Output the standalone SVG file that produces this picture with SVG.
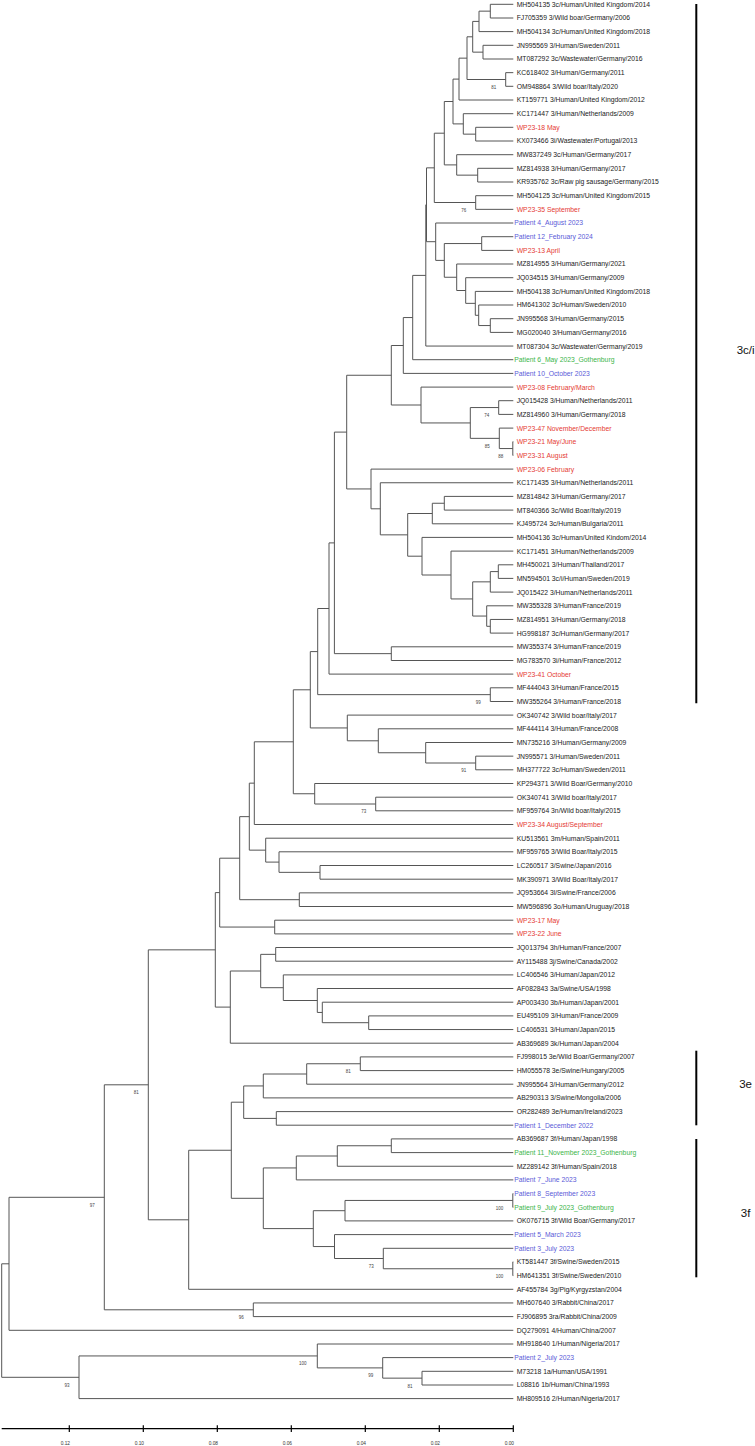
<svg xmlns="http://www.w3.org/2000/svg" width="755" height="1446" viewBox="0 0 755 1446">
<style>
.br{fill:none;stroke:#555;stroke-width:1}
.t{font-family:"Liberation Sans",Arial,sans-serif;font-size:6.8px;fill:#222}
.r{fill:#e53b35}
.b{fill:#5b5bd8}
.g{fill:#3cb54a}
.bs{font-family:"Liberation Sans",Arial,sans-serif;font-size:4.5px;fill:#444;text-anchor:end}
.sc{font-family:"Liberation Sans",Arial,sans-serif;font-size:4.8px;fill:#333;text-anchor:end}
.bar{stroke:#000;stroke-width:2}
.cl{font-family:"Liberation Sans",Arial,sans-serif;font-size:11.5px;fill:#111;text-anchor:middle}
</style>
<rect width="755" height="1446" fill="#fff"/>
<g id="connectors" class="br">
<path d="M513.3 4.3H490.3V18H513.3"/>
<path d="M490.3 11.15H479V31.6H513.3"/>
<path d="M513.3 45.3H483V59H513.3"/>
<path d="M479 21.4H472.7V52.15H483"/>
<path d="M513.3 72.65H505.7V86.3H513.3"/>
<path d="M472.7 36.8H467V79.5H505.7"/>
<path d="M467 58.15H459V100H513.3"/>
<path d="M513.3 127.3H475.7V141H513.3"/>
<path d="M513.3 113.7H463.3V134.15H475.7"/>
<path d="M459 79.1H453V123.9H463.3"/>
<path d="M513.3 168.3H477.7V182H513.3"/>
<path d="M513.3 154.7H456.7V175.15H477.7"/>
<path d="M453 101.5H444.3V164.9H456.7"/>
<path d="M513.3 195.7H475.7V209.35H513.3"/>
<path d="M444.3 133.2H434.3V202.5H475.7"/>
<path d="M513.3 236.7H481.7V250.4H513.3"/>
<path d="M513.3 318.7H490.3V332.4H513.3"/>
<path d="M513.3 305H478.7V325.55H490.3"/>
<path d="M513.3 291.4H475.3V315.3H478.7"/>
<path d="M513.3 277.7H465.7V303.35H475.3"/>
<path d="M513.3 264H456.7V290.5H465.7"/>
<path d="M481.7 243.55H444.3V277.25H456.7"/>
<path d="M513.3 223H435.7V260.4H444.3"/>
<path d="M434.3 167.85H426.5V241.7H435.7"/>
<path d="M426.5 204.8H425.8V346.05H513.3"/>
<path d="M425.8 275.4H412.7V359.7H513.3"/>
<path d="M412.7 317.55H403.3V373.4H513.3"/>
<path d="M513.3 441.7H512.8V455.4H513.3"/>
<path d="M513.3 428.1H499.3V448.55H512.8"/>
<path d="M513.3 400.7H498.7V414.4H513.3"/>
<path d="M498.7 407.55H470.3V438.35H499.3"/>
<path d="M513.3 387.1H421V422.95H470.3"/>
<path d="M403.3 345.5H391.3V405H421"/>
<path d="M513.3 496.4H444.3V510.1H513.3"/>
<path d="M444.3 503.25H432.3V523.8H513.3"/>
<path d="M513.3 564.8H498.3V578.4H513.3"/>
<path d="M498.3 571.6H490.3V592.1H513.3"/>
<path d="M513.3 619.45H490.3V633.1H513.3"/>
<path d="M513.3 605.8H486.7V626.3H490.3"/>
<path d="M490.3 581.85H472.7V616.05H486.7"/>
<path d="M513.3 551.1H451V598.95H472.7"/>
<path d="M513.3 537.4H422V575H451"/>
<path d="M432.3 513.5H407.7V556.2H422"/>
<path d="M513.3 482.75H380.3V534.85H407.7"/>
<path d="M513.3 469.1H371V508.8H380.3"/>
<path d="M391.3 375.25H346.7V488.95H371"/>
<path d="M513.3 646.8H391.3V660.5H513.3"/>
<path d="M346.7 432.1H334.4V653.65H391.3"/>
<path d="M334.4 542.9H329V674.1H513.3"/>
<path d="M513.3 687.8H490.3V701.5H513.3"/>
<path d="M329 608.5H317.7V694.65H490.3"/>
<path d="M513.3 756.15H475.7V769.8H513.3"/>
<path d="M513.3 742.5H425.7V763H475.7"/>
<path d="M513.3 728.8H378.3V752.75H425.7"/>
<path d="M513.3 715.1H347.3V740.8H378.3"/>
<path d="M317.7 651.6H310.3V727.95H347.3"/>
<path d="M513.3 797.2H375.7V810.8H513.3"/>
<path d="M513.3 783.5H314.7V804H375.7"/>
<path d="M310.3 689.8H293.3V793.75H314.7"/>
<path d="M293.3 741.8H254.3V824.5H513.3"/>
<path d="M513.3 865.5H320V879.2H513.3"/>
<path d="M513.3 851.8H279V872.35H320"/>
<path d="M513.3 838.2H265.7V862.1H279"/>
<path d="M254.3 783.15H249.3V850.15H265.7"/>
<path d="M513.3 892.85H299.3V906.5H513.3"/>
<path d="M249.3 816.65H239.7V899.7H299.3"/>
<path d="M513.3 920.2H274.7V933.9H513.3"/>
<path d="M239.7 858.2H219.7V927.05H274.7"/>
<path d="M513.3 947.5H275.7V961.2H513.3"/>
<path d="M513.3 1015.9H368.7V1029.55H513.3"/>
<path d="M513.3 1002.2H322.3V1022.7H368.7"/>
<path d="M513.3 988.5H317.3V1012.45H322.3"/>
<path d="M513.3 974.9H283.3V1000.5H317.3"/>
<path d="M275.7 954.35H260.7V987.7H283.3"/>
<path d="M260.7 971H230.3V1043.2H513.3"/>
<path d="M219.7 892.6H215.3V1007.1H230.3"/>
<path d="M513.3 1056.9H360.3V1070.6H513.3"/>
<path d="M360.3 1063.75H306.7V1084.2H513.3"/>
<path d="M306.7 1074H263.3V1097.9H513.3"/>
<path d="M513.3 1111.6H276.3V1125.2H513.3"/>
<path d="M263.3 1085.95H243.7V1118.4H276.3"/>
<path d="M513.3 1138.9H391.3V1152.6H513.3"/>
<path d="M391.3 1145.75H337.3V1166.25H513.3"/>
<path d="M337.3 1156H296.3V1179.9H513.3"/>
<path d="M513.3 1193.6H512.8V1207.3H513.3"/>
<path d="M512.8 1200.45H345V1220.9H513.3"/>
<path d="M513.3 1261.9H512.8V1275.6H513.3"/>
<path d="M513.3 1248.3H383.3V1268.75H512.8"/>
<path d="M513.3 1234.6H334.5V1258.5H383.3"/>
<path d="M345 1210.7H313.3V1246.55H334.5"/>
<path d="M296.3 1167.95H263.3V1228.6H313.3"/>
<path d="M243.7 1102.2H231.3V1198.3H263.3"/>
<path d="M231.3 1150.25H188.7V1289.3H513.3"/>
<path d="M215.3 949.85H148.3V1219.8H188.7"/>
<path d="M513.3 1302.95H253.3V1316.6H513.3"/>
<path d="M148.3 1084.8H104.3V1309.8H253.3"/>
<path d="M104.3 1197.3H9V1330.3H513.3"/>
<path d="M513.3 1371.3H422V1385H513.3"/>
<path d="M513.3 1357.6H382.7V1378.15H422"/>
<path d="M513.3 1344H317.3V1367.9H382.7"/>
<path d="M317.3 1355.95H79V1398.6H513.3"/>
<path d="M9 1263.8H1.7V1377.3H79"/>
</g>
<g id="bootstrap">
<text class="bs" x="496.2" y="88.8">81</text>
<text class="bs" x="466.2" y="211.8">76</text>
<text class="bs" x="489.2" y="416.9">74</text>
<text class="bs" x="489.8" y="447.7">85</text>
<text class="bs" x="503.3" y="457.9">88</text>
<text class="bs" x="480.8" y="704">99</text>
<text class="bs" x="466.2" y="772.3">91</text>
<text class="bs" x="366.2" y="813.3">73</text>
<text class="bs" x="350.8" y="1073">81</text>
<text class="bs" x="138.8" y="1094.1">81</text>
<text class="bs" x="94.8" y="1206.6">97</text>
<text class="bs" x="243.8" y="1319.1">96</text>
<text class="bs" x="503.3" y="1209.8">100</text>
<text class="bs" x="373.8" y="1267.8">73</text>
<text class="bs" x="503.3" y="1278">100</text>
<text class="bs" x="306.5" y="1365.3">100</text>
<text class="bs" x="373.2" y="1377.2">99</text>
<text class="bs" x="412.5" y="1387.5">81</text>
<text class="bs" x="69.5" y="1386.6">93</text>
</g>
<g id="leaves" class="t">
<g id="L1"><text x="516.7" y="6.7">MH504135 3c/Human/United Kingdom/2014</text></g>
<g id="L2"><text x="516.7" y="20.4">FJ705359 3/Wild boar/Germany/2006</text></g>
<g id="L3"><text x="516.7" y="34">MH504134 3c/Human/United Kingdom/2018</text></g>
<g id="L4"><text x="516.7" y="47.7">JN995569 3/Human/Sweden/2011</text></g>
<g id="L5"><text x="516.7" y="61.4">MT087292 3c/Wastewater/Germany/2016</text></g>
<g id="L6"><text x="516.7" y="75.1">KC618402 3/Human/Germany/2011</text></g>
<g id="L7"><text x="516.7" y="88.7">OM948864 3/Wild boar/Italy/2020</text></g>
<g id="L8"><text x="516.7" y="102.4">KT159771 3/Human/United Kingdom/2012</text></g>
<g id="L9"><text x="516.7" y="116.1">KC171447 3/Human/Netherlands/2009</text></g>
<g id="L10"><text class="r" x="516.7" y="129.7">WP23-18 May</text></g>
<g id="L11"><text x="516.7" y="143.4">KX073466 3i/Wastewater/Portugal/2013</text></g>
<g id="L12"><text x="516.7" y="157.1">MW837249 3c/Human/Germany/2017</text></g>
<g id="L13"><text x="516.7" y="170.7">MZ814938 3/Human/Germany/2017</text></g>
<g id="L14"><text x="516.7" y="184.4">KR935762 3c/Raw pig sausage/Germany/2015</text></g>
<g id="L15"><text x="516.7" y="198.1">MH504125 3c/Human/United Kingdom/2015</text></g>
<g id="L16"><text class="r" x="516.7" y="211.8">WP23-35 September</text></g>
<g id="L17"><text class="b" x="514.3" y="225.4">Patient 4_August 2023</text></g>
<g id="L18"><text class="b" x="514.3" y="239.1">Patient 12_February 2024</text></g>
<g id="L19"><text class="r" x="516.7" y="252.8">WP23-13 April</text></g>
<g id="L20"><text x="516.7" y="266.4">MZ814955 3/Human/Germany/2021</text></g>
<g id="L21"><text x="516.7" y="280.1">JQ034515 3/Human/Germany/2009</text></g>
<g id="L22"><text x="516.7" y="293.8">MH504138 3c/Human/United Kingdom/2018</text></g>
<g id="L23"><text x="516.7" y="307.4">HM641302 3c/Human/Sweden/2010</text></g>
<g id="L24"><text x="516.7" y="321.1">JN995568 3/Human/Germany/2015</text></g>
<g id="L25"><text x="516.7" y="334.8">MG020040 3/Human/Germany/2016</text></g>
<g id="L26"><text x="516.7" y="348.5">MT087304 3c/Wastewater/Germany/2019</text></g>
<g id="L27"><text class="g" x="514.3" y="362.1">Patient 6_May 2023_Gothenburg</text></g>
<g id="L28"><text class="b" x="514.3" y="375.8">Patient 10_October 2023</text></g>
<g id="L29"><text class="r" x="516.7" y="389.5">WP23-08 February/March</text></g>
<g id="L30"><text x="516.7" y="403.1">JQ015428 3/Human/Netherlands/2011</text></g>
<g id="L31"><text x="516.7" y="416.8">MZ814960 3/Human/Germany/2018</text></g>
<g id="L32"><text class="r" x="516.7" y="430.5">WP23-47 November/December</text></g>
<g id="L33"><text class="r" x="516.7" y="444.1">WP23-21 May/June</text></g>
<g id="L34"><text class="r" x="516.7" y="457.8">WP23-31 August</text></g>
<g id="L35"><text class="r" x="516.7" y="471.5">WP23-06 February</text></g>
<g id="L36"><text x="516.7" y="485.2">KC171435 3/Human/Netherlands/2011</text></g>
<g id="L37"><text x="516.7" y="498.8">MZ814842 3/Human/Germany/2017</text></g>
<g id="L38"><text x="516.7" y="512.5">MT840366 3c/Wild Boar/Italy/2019</text></g>
<g id="L39"><text x="516.7" y="526.2">KJ495724 3c/Human/Bulgaria/2011</text></g>
<g id="L40"><text x="516.7" y="539.8">MH504136 3c/Human/United Kindom/2014</text></g>
<g id="L41"><text x="516.7" y="553.5">KC171451 3/Human/Netherlands/2009</text></g>
<g id="L42"><text x="516.7" y="567.2">MH450021 3/Human/Thailand/2017</text></g>
<g id="L43"><text x="516.7" y="580.8">MN594501 3c/i/Human/Sweden/2019</text></g>
<g id="L44"><text x="516.7" y="594.5">JQ015422 3/Human/Netherlands/2011</text></g>
<g id="L45"><text x="516.7" y="608.2">MW355328 3/Human/France/2019</text></g>
<g id="L46"><text x="516.7" y="621.9">MZ814951 3/Human/Germany/2018</text></g>
<g id="L47"><text x="516.7" y="635.5">HG998187 3c/Human/Germany/2017</text></g>
<g id="L48"><text x="516.7" y="649.2">MW355374 3/Human/France/2019</text></g>
<g id="L49"><text x="516.7" y="662.9">MG783570 3i/Human/France/2012</text></g>
<g id="L50"><text class="r" x="516.7" y="676.5">WP23-41 October</text></g>
<g id="L51"><text x="516.7" y="690.2">MF444043 3/Human/France/2015</text></g>
<g id="L52"><text x="516.7" y="703.9">MW355264 3/Human/France/2018</text></g>
<g id="L53"><text x="516.7" y="717.5">OK340742 3/Wild boar/Italy/2017</text></g>
<g id="L54"><text x="516.7" y="731.2">MF444114 3/Human/France/2008</text></g>
<g id="L55"><text x="516.7" y="744.9">MN735216 3/Human/Germany/2009</text></g>
<g id="L56"><text x="516.7" y="758.6">JN995571 3/Human/Sweden/2011</text></g>
<g id="L57"><text x="516.7" y="772.2">MH377722 3c/Human/Sweden/2011</text></g>
<g id="L58"><text x="516.7" y="785.9">KP294371 3/Wild Boar/Germany/2010</text></g>
<g id="L59"><text x="516.7" y="799.6">OK340741 3/Wild boar/Italy/2017</text></g>
<g id="L60"><text x="516.7" y="813.2">MF959764 3n/Wild boar/Italy/2015</text></g>
<g id="L61"><text class="r" x="516.7" y="826.9">WP23-34 August/September</text></g>
<g id="L62"><text x="516.7" y="840.6">KU513561 3m/Human/Spain/2011</text></g>
<g id="L63"><text x="516.7" y="854.2">MF959765 3/Wild Boar/Italy/2015</text></g>
<g id="L64"><text x="516.7" y="867.9">LC260517 3/Swine/Japan/2016</text></g>
<g id="L65"><text x="516.7" y="881.6">MK390971 3/Wild Boar/Italy/2017</text></g>
<g id="L66"><text x="516.7" y="895.3">JQ953664 3l/Swine/France/2006</text></g>
<g id="L67"><text x="516.7" y="908.9">MW596896 3o/Human/Uruguay/2018</text></g>
<g id="L68"><text class="r" x="516.7" y="922.6">WP23-17 May</text></g>
<g id="L69"><text class="r" x="516.7" y="936.3">WP23-22 June</text></g>
<g id="L70"><text x="516.7" y="949.9">JQ013794 3h/Human/France/2007</text></g>
<g id="L71"><text x="516.7" y="963.6">AY115488 3j/Swine/Canada/2002</text></g>
<g id="L72"><text x="516.7" y="977.3">LC406546 3/Human/Japan/2012</text></g>
<g id="L73"><text x="516.7" y="990.9">AF082843 3a/Swine/USA/1998</text></g>
<g id="L74"><text x="516.7" y="1004.6">AP003430 3b/Human/Japan/2001</text></g>
<g id="L75"><text x="516.7" y="1018.3">EU495109 3/Human/France/2009</text></g>
<g id="L76"><text x="516.7" y="1032">LC406531 3/Human/Japan/2015</text></g>
<g id="L77"><text x="516.7" y="1045.6">AB369689 3k/Human/Japan/2004</text></g>
<g id="L78"><text x="516.7" y="1059.3">FJ998015 3e/Wild Boar/Germany/2007</text></g>
<g id="L79"><text x="516.7" y="1073">HM055578 3e/Swine/Hungary/2005</text></g>
<g id="L80"><text x="516.7" y="1086.6">JN995564 3/Human/Germany/2012</text></g>
<g id="L81"><text x="516.7" y="1100.3">AB290313 3/Swine/Mongolia/2006</text></g>
<g id="L82"><text x="516.7" y="1114">OR282489 3e/Human/Ireland/2023</text></g>
<g id="L83"><text class="b" x="514.3" y="1127.6">Patient 1_December 2022</text></g>
<g id="L84"><text x="516.7" y="1141.3">AB369687 3f/Human/Japan/1998</text></g>
<g id="L85"><text class="g" x="514.3" y="1155">Patient 11_November 2023_Gothenburg</text></g>
<g id="L86"><text x="516.7" y="1168.7">MZ289142 3f/Human/Spain/2018</text></g>
<g id="L87"><text class="b" x="514.3" y="1182.3">Patient 7_June 2023</text></g>
<g id="L88"><text class="b" x="514.3" y="1196">Patient 8_September 2023</text></g>
<g id="L89"><text class="g" x="514.3" y="1209.7">Patient 9_July 2023_Gothenburg</text></g>
<g id="L90"><text x="516.7" y="1223.3">OK076715 3f/Wild Boar/Germany/2017</text></g>
<g id="L91"><text class="b" x="514.3" y="1237">Patient 5_March 2023</text></g>
<g id="L92"><text class="b" x="514.3" y="1250.7">Patient 3_July 2023</text></g>
<g id="L93"><text x="516.7" y="1264.3">KT581447 3f/Swine/Sweden/2015</text></g>
<g id="L94"><text x="516.7" y="1278">HM641351 3f/Swine/Sweden/2010</text></g>
<g id="L95"><text x="516.7" y="1291.7">AF455784 3g/Pig/Kyrgyzstan/2004</text></g>
<g id="L96"><text x="516.7" y="1305.4">MH607640 3/Rabbit/China/2017</text></g>
<g id="L97"><text x="516.7" y="1319">FJ906895 3ra/Rabbit/China/2009</text></g>
<g id="L98"><text x="516.7" y="1332.7">DQ279091 4/Human/China/2007</text></g>
<g id="L99"><text x="516.7" y="1346.4">MH918640 1/Human/Nigeria/2017</text></g>
<g id="L100"><text class="b" x="514.3" y="1360">Patient 2_July 2023</text></g>
<g id="L101"><text x="516.7" y="1373.7">M73218 1a/Human/USA/1991</text></g>
<g id="L102"><text x="516.7" y="1387.4">L08816 1b/Human/China/1993</text></g>
<g id="L103"><text x="516.7" y="1401">MH809516 2/Human/Nigeria/2017</text></g>
</g>
<g id="clade-3ci"><line class="bar" x1="696.3" y1="4" x2="696.3" y2="703.3"/><text class="cl" x="745.6" y="354">3c/i</text></g>
<g id="clade-3e"><line class="bar" x1="696.3" y1="1050.7" x2="696.3" y2="1125.3"/><text class="cl" x="745.6" y="1088.3">3e</text></g>
<g id="clade-3f"><line class="bar" x1="696.3" y1="1139" x2="696.3" y2="1277.3"/><text class="cl" x="745.6" y="1216.7">3f</text></g>
<g id="scale">
<path d="M1.7 1428.7H513.3M69.3 1425.3V1432M143.3 1425.3V1432M217.3 1425.3V1432M291.3 1425.3V1432M365.3 1425.3V1432M439.3 1425.3V1432M513.3 1425.3V1432" stroke="#000" stroke-width="1.2" fill="none"/>
<text class="sc" x="70" y="1444.5">0.12</text>
<text class="sc" x="144" y="1444.5">0.10</text>
<text class="sc" x="218" y="1444.5">0.08</text>
<text class="sc" x="292" y="1444.5">0.06</text>
<text class="sc" x="366" y="1444.5">0.04</text>
<text class="sc" x="440" y="1444.5">0.02</text>
<text class="sc" x="514" y="1444.5">0.00</text>
</g>
</svg>
